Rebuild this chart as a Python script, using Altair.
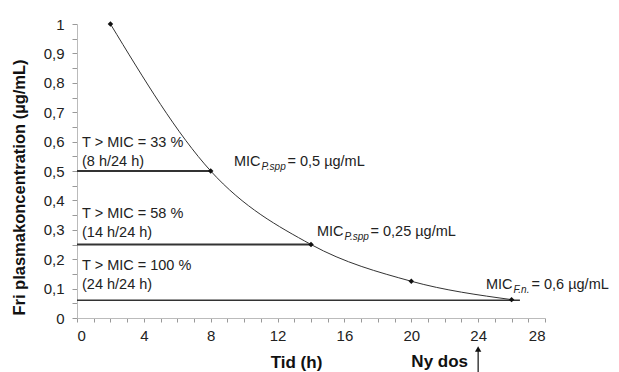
import altair as alt
import pandas as pd

# Data
hours = [2, 8, 14, 20, 26]
conc = [1.0, 0.5, 0.25, 0.125, 0.0625]

mic_levels = [0.5, 0.25, 0.06]
mic_end = [8, 14, 26.5]

left_labels = ["T > MIC = 33 %", "(8 h/24 h)", "T > MIC = 58 %", "(14 h/24 h)",
               "T > MIC = 100 %", "(24 h/24 h)"]
left_y = [0.595, 0.531, 0.354, 0.289, 0.177, 0.112]

mic_x = [9.39, 14.36, 24.47]
mic_y = [0.531, 0.294, 0.112]
mic_sub = ["P.spp", "P.spp", "F.n."]
mic_tail = ["= 0,5 \u00b5g/mL", "= 0,25 \u00b5g/mL", "= 0,6 \u00b5g/mL"]

FONT = "Liberation Sans"
W, H = 468, 294

curve_df = pd.DataFrame({"x": hours, "y": conc})
lines_df = pd.DataFrame({"x": [0] * 3, "x1": mic_end, "y": mic_levels,
                         "w": ["thick", "thick", "thin"]})
left_df = pd.DataFrame({"x": [0.3] * len(left_labels), "y": left_y, "label": left_labels})

xscale = alt.Scale(domain=[0, 28], nice=False)
yscale = alt.Scale(domain=[0, 1], nice=False)

x_axis = alt.Axis(
    values=list(range(0, 29)),
    labelExpr="datum.value % 4 == 0 ? datum.value : ''",
    labelOverlap=False,
    title="Tid (h)", titleFont=FONT, titleFontSize=17, titleFontWeight="bold",
    titleColor="#111", titleX=219, titleY=44, titleBaseline="middle",
    labelFont=FONT, labelFontSize=15, labelColor="#222", labelPadding=6,
    tickSize=4, tickColor="#999", domainColor="#bbb", grid=False,
)
y_axis = alt.Axis(
    values=[round(i * 0.05, 2) for i in range(0, 21)],
    labelExpr=("abs(datum.value*10 - round(datum.value*10)) < 0.01 ? "
               "(datum.value == 0 ? '0' : (datum.value == 1 ? '1' : "
               "replace(format(datum.value, '.1f'), '.', ','))) : ''"),
    labelOverlap=False,
    title="Fri plasmakoncentration (\u00b5g/mL)", titleFont=FONT, titleFontSize=16.5,
    titleFontWeight="bold", titleColor="#111", titleAngle=270, titleX=-58, titleY=163,
    titleAlign="center", titleBaseline="middle",
    labelFont=FONT, labelFontSize=15, labelColor="#222", labelPadding=8,
    tickSize=5, tickColor="#999", domainColor="#bbb", grid=False,
)

X = alt.X("x:Q", scale=xscale, axis=x_axis)
Y = alt.Y("y:Q", scale=yscale, axis=y_axis)

curve = alt.Chart(curve_df).mark_line(color="#333", strokeWidth=1, interpolate="monotone").encode(x=X, y=Y)
pts = alt.Chart(curve_df).mark_point(shape="diamond", filled=True, color="#111", size=30, opacity=1).encode(
    x=X, y=Y)

hl = alt.Chart(lines_df).mark_rule(color="#333").encode(
    x=X, x2="x1:Q", y=Y,
    strokeWidth=alt.StrokeWidth("w:N", scale=alt.Scale(domain=["thick", "thin"], range=[2, 1.5]), legend=None))

left_txt = alt.Chart(left_df).mark_text(align="left", baseline="middle", font=FONT, fontSize=14.5,
                                        color="#222").encode(x=X, y=Y, text="label:N")

layers = [curve, hl, pts, left_txt]

mic_w = 27.5
for i in range(3):
    d = pd.DataFrame({"x": [mic_x[i]], "y": [mic_y[i]], "a": ["MIC"], "b": [mic_sub[i]], "c": [mic_tail[i]]})
    sub_w = 25 if mic_sub[i] == "P.spp" else 17
    layers.append(alt.Chart(d).mark_text(align="left", baseline="middle", font=FONT, fontSize=14.5,
                                         color="#222").encode(x=X, y=Y, text="a:N"))
    layers.append(alt.Chart(d).mark_text(align="left", baseline="middle", font=FONT, fontSize=10,
                                         fontStyle="italic", color="#222", dx=mic_w, dy=5).encode(
        x=X, y=Y, text="b:N"))
    layers.append(alt.Chart(d).mark_text(align="left", baseline="middle", font=FONT, fontSize=14.5,
                                         color="#222", dx=mic_w + sub_w + 1).encode(
        x=X, y=Y, text="c:N"))

ny_df = pd.DataFrame({"x": [21.7], "label": ["Ny dos"]})
ny = alt.Chart(ny_df).mark_text(font=FONT, fontSize=17, fontWeight="bold", color="#111",
                                baseline="middle").encode(x=X, y=alt.value(338), text="label:N")
arrow_df = pd.DataFrame({"x": [24]})
arrow_line = alt.Chart(arrow_df).mark_rule(color="#111", strokeWidth=1.2).encode(
    x=X, y=alt.value(326), y2=alt.value(360))
arrow_head = alt.Chart(arrow_df).mark_point(shape="triangle-up", filled=True, color="#111", size=40,
                                            opacity=1).encode(x=X, y=alt.value(325))
layers += [ny, arrow_line, arrow_head]

chart = alt.layer(*layers).properties(
    width=W, height=H,
    autosize=alt.AutoSizeParams(type="none"),
    padding={"left": 69, "top": 16, "right": 66, "bottom": 62},
    background="white",
).configure_view(stroke=None)

chart.save("out.html", embed_options={"renderer": "svg", "actions": False})
